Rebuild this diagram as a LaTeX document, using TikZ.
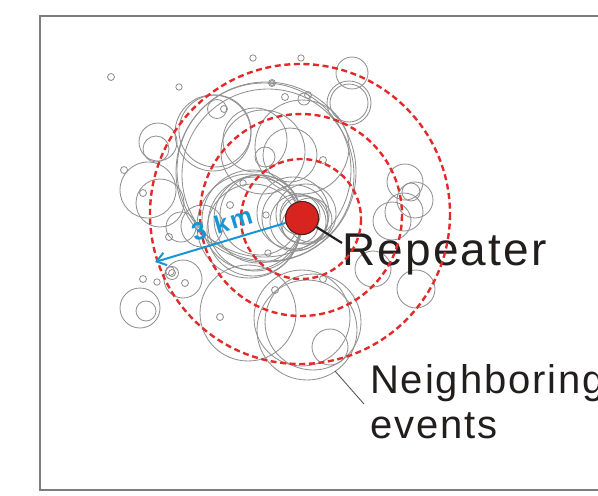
\documentclass[tikz,border=0pt]{standalone}
\usepackage{fontspec}
\setmainfont{Liberation Sans}
\newfontfamily\lblfont[LetterSpace=4.8]{Liberation Sans}
\newfontfamily\kmfont[LetterSpace=10]{Liberation Sans}
\usetikzlibrary{arrows.meta}

\definecolor{evgray}{RGB}{145,145,145}
\definecolor{framegray}{RGB}{125,125,125}
\definecolor{ringred}{RGB}{226,42,42}
\definecolor{dotred}{RGB}{216,36,30}
\definecolor{dotedge}{RGB}{70,35,30}
\definecolor{kmblue}{RGB}{22,150,215}
\definecolor{ink}{RGB}{35,30,30}

\tikzset{
  event/.style={draw=evgray, line width=0.85pt},
  ring/.style={draw=ringred, line width=2.4pt, dash pattern=on 6pt off 3.6pt},
  repeaterdot/.style={circle, fill=dotred, draw=dotedge, line width=0.9pt,
    minimum size=33pt, inner sep=0pt},
  kmarrow/.style={draw=kmblue, line width=2pt,
    -{Straight Barb[length=9pt, width=13pt, line width=2pt]}},
  biglabel/.style={text=ink, inner sep=0pt, font=\lblfont\fontsize{46}{54}\selectfont},
  midlabel/.style={text=ink, inner sep=0pt, font=\lblfont\fontsize{40}{45}\selectfont},
}

\begin{document}
\begin{tikzpicture}[x=1pt, y=-1pt]
\useasboundingbox (0,0) rectangle (598,496);

% frame (its right side runs past the page edge)
\draw[framegray, line width=1.3pt] (40,16) rectangle (640,490);

% neighbouring events: small ones
\foreach \cx/\cy/\r in {111/77/3.5, 179/87/3.2, 253/58/3.2, 301/58/3.2,
    272/83/3.5, 272/83/2.4, 285/97/3.5, 304/99/6, 308/95/3.5, 323/160/3.5,
    224/109/3.5, 124/170/3.5, 143/193/3.5, 243/183/3.2, 143/279/3.5,
    157/282/3.2, 185/283/3.5, 220/317/3.5, 230/205/3.5, 169/237/3.5,
    266/215/3.2, 268/253/3.2, 275/290/3.5, 323/279/3.5, 172/273/3.5,
    172/273/6.5, 170/271/4.5}
  \draw[event] (\cx,\cy) circle[radius=\r];

% neighbouring events: medium and large ones
\foreach \cx/\cy/\r in {
    352/73/16, 349/103/22, 349/103/19,
    158/142/19, 156/149/13, 217/109/9.5,
    213/133/38, 215/131/36,
    266/172/90, 264/170/87, 268/175/86,
    302/147/47, 255/140/32, 290/155/27, 265/157/10,
    263/152/42,
    300/215/20, 304/220/24, 298/222/28, 306/214/30, 295/218/33,
    300/225/18, 310/220/22, 293/213/36,
    252/220/50, 255/224/47, 249/226/52, 258/219/44, 253/230/46, 260/215/40,
    148/190/28, 160/203/24, 181/227/15, 202/226/21,
    140/308/20, 146/311/10, 183/279/19,
    248/313/48, 302/318/48, 307/330/50, 313/322/48, 330/347/18,
    405/182/18, 415/200/18, 411/192/9, 404/212/19, 392/221/19,
    373/269/18, 416/289/19}
  \draw[event] (\cx,\cy) circle[radius=\r];

% labels
\node[biglabel, anchor=base west] (reptext) at (342,265) {Repeater};
\node[midlabel, anchor=base west] (nbtext) at (370,393) {Neighboring};
\node[midlabel, anchor=base west] (evtext) at (370,438) {events};

% leader lines
\node[repeaterdot] (rep) at (302,218) {};
\coordinate (replead) at (342,243);
\draw[ink, line width=2.2pt] (rep) -- (replead);
\coordinate (nbstart) at (335,371);
\coordinate (nbend) at (364,404);
\draw[black!65, line width=0.9pt] (nbstart) -- (nbend);

% distance rings around the repeater
\draw[ring] (301,219) circle[radius=60];
\draw[ring] (301,215) circle[radius=101];
\draw[ring] (300,214) circle[radius=150];

% 3 km radius
\coordinate (tip) at (155,262);
\draw[kmarrow] (rep) -- (tip);
\node[text=kmblue, font=\kmfont\bfseries\fontsize{25}{30}\selectfont, rotate=17,
  inner sep=0pt] (km) at (222,224) {3 km};

% repeater on top
\node[repeaterdot] at (rep) {};
\end{tikzpicture}
\end{document}
